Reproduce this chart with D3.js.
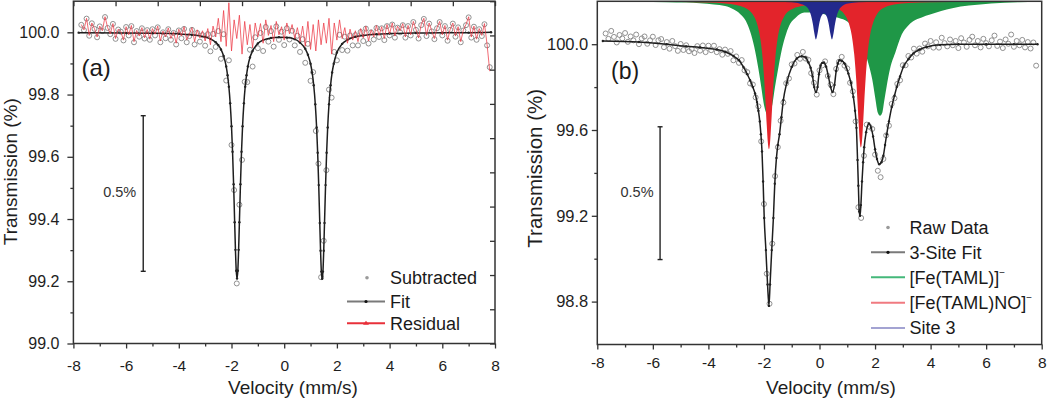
<!DOCTYPE html>
<html><head><meta charset="utf-8">
<script src="https://cdn.jsdelivr.net/npm/d3@7/dist/d3.min.js"></script>
<style>html,body{margin:0;padding:0;background:#fff;}svg{display:block;}</style>
</head><body>
<svg id="chart" width="1050" height="400"></svg>
<script>
// ---------------- data ----------------
const velocity = [
-7.7,-7.6,-7.5,-7.4,-7.3,-7.2,-7.1,-7.0,-6.9,-6.8,
-6.7,-6.6,-6.5,-6.4,-6.3,-6.2,-6.1,-6.0,-5.9,-5.8,
-5.7,-5.6,-5.5,-5.4,-5.3,-5.2,-5.1,-5.0,-4.9,-4.8,
-4.7,-4.6,-4.5,-4.4,-4.3,-4.2,-4.1,-4.0,-3.9,-3.8,
-3.7,-3.6,-3.5,-3.4,-3.3,-3.2,-3.1,-3.0,-2.9,-2.8,
-2.7,-2.6,-2.5,-2.4,-2.3,-2.2,-2.1,-2.0,-1.9,-1.8,
-1.7,-1.6,-1.5,-1.4,-1.3,-1.2,-1.1,-1.0,-0.9,-0.8,
-0.7,-0.6,-0.5,-0.4,-0.3,-0.2,-0.1,0.0,0.1,0.2,
0.3,0.4,0.5,0.6,0.7,0.8,0.9,1.0,1.1,1.2,
1.3,1.4,1.5,1.6,1.7,1.8,1.9,2.0,2.1,2.2,
2.3,2.4,2.5,2.6,2.7,2.8,2.9,3.0,3.1,3.2,
3.3,3.4,3.5,3.6,3.7,3.8,3.9,4.0,4.1,4.2,
4.3,4.4,4.5,4.6,4.7,4.8,4.9,5.0,5.1,5.2,
5.3,5.4,5.5,5.6,5.7,5.8,5.9,6.0,6.1,6.2,
6.3,6.4,6.5,6.6,6.7,6.8,6.9,7.0,7.1,7.2,
7.3,7.4,7.5,7.6,7.7,7.8];

// panel (a)
const subtracted = [
100.024,100.007,100.044,99.989,100.029,100.011,99.984,100.019,100.004,100.049,
100.014,99.994,100.027,99.979,100.009,100.002,99.974,100.017,99.990,100.020,
99.968,100.004,99.986,100.013,99.980,100.007,99.976,100.010,99.990,100.016,
99.968,100.000,99.981,100.010,99.976,99.998,99.961,100.006,99.981,100.011,
99.968,99.988,100.008,99.961,99.998,99.970,99.991,99.957,99.994,99.939,
99.995,99.953,100.004,99.915,99.994,99.845,99.910,99.638,99.493,99.193,
99.446,99.590,99.841,99.840,99.944,99.890,99.984,99.949,99.998,99.940,
100.017,99.970,100.004,99.954,100.019,99.976,100.002,99.959,100.013,99.977,
100.005,99.958,99.989,99.937,99.978,99.902,99.963,99.844,99.872,99.683,
99.578,99.213,99.330,99.557,99.816,99.790,99.937,99.910,99.992,99.943,
99.986,99.941,99.990,99.958,99.991,99.958,100.001,99.972,100.012,99.964,
100.000,99.977,100.014,99.985,100.013,99.975,100.020,99.990,100.025,99.983,
100.015,100.000,100.023,99.983,100.020,99.990,100.033,100.008,99.980,100.023,
100.043,99.988,100.028,100.003,99.978,100.013,100.033,99.990,100.020,99.973,
100.008,100.028,99.986,100.016,99.968,100.006,100.023,100.048,99.983,100.018,
99.976,100.010,99.988,100.026,99.958,99.888];

const residual = [
100.025,100.008,100.045,99.990,100.030,100.012,99.985,100.020,100.005,100.050,
100.015,99.995,100.028,99.980,100.010,100.003,99.975,100.018,99.992,100.022,
99.970,100.006,99.988,100.015,99.982,100.009,99.978,100.012,99.994,100.020,
99.972,100.004,99.985,100.014,99.980,100.002,99.965,100.010,99.988,100.018,
99.975,99.995,100.015,99.970,100.008,99.982,100.005,99.972,100.012,99.960,
100.020,99.985,100.045,99.970,100.070,99.955,100.095,99.940,100.040,99.980,
100.055,99.930,100.035,99.960,100.025,99.950,100.030,99.985,100.028,99.965,
100.040,99.990,100.022,99.970,100.035,99.992,100.018,99.975,100.030,99.995,
100.025,99.980,100.015,99.970,100.020,99.955,100.035,99.945,100.025,99.940,
100.040,99.960,100.030,99.965,100.045,99.930,100.030,99.975,100.040,99.980,
100.015,99.965,100.010,99.975,100.005,99.970,100.012,99.982,100.020,99.972,
100.008,99.985,100.022,99.990,100.018,99.980,100.025,99.995,100.030,99.988,
100.020,100.005,100.028,99.985,100.022,99.992,100.035,100.010,99.982,100.025,
100.045,99.990,100.030,100.005,99.980,100.015,100.035,99.992,100.022,99.975,
100.010,100.030,99.988,100.018,99.970,100.008,100.025,100.050,99.985,100.020,
99.978,100.012,99.990,100.028,99.960,99.875];

const fitAVel = [-7.8,-6.0,-5.0,-4.0,-3.5,-3.0,-2.8,-2.6,-2.5,-2.4,-2.3,-2.2,-2.15,-2.1,-2.05,-2.0,-1.96,-1.92,-1.88,-1.85,-1.82,-1.79,-1.76,-1.73,-1.7,-1.66,-1.62,-1.58,-1.53,-1.48,-1.43,-1.38,-1.3,-1.2,-1.0,-0.8,-0.5,-0.2,0.1,0.4,0.6,0.8,0.9,1.0,1.06,1.12,1.18,1.23,1.27,1.31,1.35,1.38,1.41,1.44,1.47,1.5,1.53,1.57,1.61,1.65,1.7,1.76,1.82,1.88,2.0,2.2,2.4,2.7,3.0,3.5,4.0,5.0,6.0,7.0,7.85];
const fitATrans = [99.999,99.998,99.997,99.995,99.992,99.985,99.979,99.968,99.959,99.945,99.924,99.89,99.862,99.825,99.772,99.698,99.616,99.512,99.39,99.301,99.234,99.209,99.234,99.301,99.39,99.512,99.616,99.698,99.772,99.825,99.862,99.89,99.919,99.94,99.964,99.975,99.982,99.984,99.983,99.978,99.967,99.947,99.928,99.899,99.871,99.83,99.769,99.694,99.613,99.509,99.387,99.298,99.231,99.208,99.231,99.298,99.387,99.509,99.613,99.694,99.769,99.83,99.871,99.899,99.935,99.963,99.976,99.986,99.99,99.994,99.996,99.998,99.999,99.999,100.0];

// panel (b)
const rawData = [
100.050,100.025,100.062,100.034,100.008,100.043,100.027,100.052,100.011,100.036,
100.018,100.045,100.000,100.027,100.036,100.002,100.018,100.035,99.996,100.018,
100.024,99.986,100.010,99.979,100.015,99.991,99.969,100.001,99.973,99.995,
99.967,99.978,99.959,99.991,99.970,99.994,99.963,99.993,99.972,99.993,
99.963,99.977,99.951,99.975,99.955,99.968,99.925,99.943,99.913,99.926,
99.878,99.870,99.817,99.812,99.752,99.710,99.547,99.255,98.930,98.790,
99.070,99.385,99.520,99.643,99.728,99.818,99.840,99.906,99.910,99.950,
99.932,99.964,99.933,99.927,99.865,99.820,99.765,99.878,99.901,99.920,
99.852,99.812,99.767,99.885,99.918,99.941,99.900,99.887,99.820,99.780,
99.640,99.240,99.190,99.480,99.625,99.615,99.605,99.485,99.410,99.380,
99.465,99.575,99.620,99.722,99.748,99.815,99.832,99.902,99.902,99.945,
99.938,99.979,99.956,99.980,99.965,100.003,99.990,100.015,99.984,100.009,
99.984,100.030,100.005,99.990,100.022,99.995,100.015,99.982,100.028,100.008,
99.988,100.020,100.035,99.995,100.015,99.985,100.025,100.005,99.990,100.018,
100.040,99.992,100.012,99.982,100.022,100.002,100.045,99.988,100.015,99.995,
100.020,99.985,100.010,99.980,100.008,99.900];

const fitBVel = [-7.8,-6.5,-5.5,-4.8,-4.3,-3.7,-3.4,-3.1,-2.9,-2.74,-2.6,-2.5,-2.4,-2.32,-2.25,-2.2,-2.15,-2.11,-2.07,-2.03,-1.99,-1.93,-1.87,-1.82,-1.78,-1.72,-1.66,-1.61,-1.55,-1.5,-1.44,-1.37,-1.3,-1.18,-1.0,-0.82,-0.64,-0.5,-0.4,-0.32,-0.25,-0.19,-0.13,-0.07,-0.02,0.04,0.1,0.16,0.24,0.32,0.4,0.47,0.54,0.6,0.66,0.72,0.8,0.9,1.04,1.13,1.22,1.28,1.33,1.37,1.4,1.43,1.46,1.49,1.53,1.57,1.61,1.68,1.78,1.86,1.93,2.0,2.07,2.15,2.23,2.3,2.36,2.42,2.5,2.6,2.7,2.78,2.9,3.02,3.2,3.38,3.6,3.86,4.34,5.0,6.0,7.0,7.85];
const fitBTrans = [100.015,100.01,100.0,99.99,99.985,99.975,99.965,99.945,99.925,99.894,99.86,99.832,99.80,99.77,99.73,99.69,99.64,99.58,99.50,99.36,99.19,99.04,98.88,98.78,98.88,99.04,99.19,99.35,99.47,99.53,99.58,99.66,99.74,99.82,99.894,99.933,99.944,99.938,99.915,99.89,99.85,99.80,99.777,99.80,99.86,99.90,99.913,99.915,99.895,99.85,99.80,99.777,99.81,99.875,99.91,99.925,99.923,99.91,99.863,99.82,99.754,99.69,99.61,99.46,99.34,99.22,99.20,99.25,99.36,99.45,99.52,99.59,99.63,99.61,99.57,99.51,99.465,99.44,99.45,99.48,99.53,99.58,99.64,99.707,99.76,99.80,99.85,99.894,99.93,99.957,99.975,99.987,99.997,100.0,100.0,100.0,100.0];

const componentTop = 100.2;
const tamlVel = [-7.8,-6.5,-5.5,-4.8,-4.3,-3.8,-3.4,-3.1,-2.85,-2.65,-2.5,-2.35,-2.2,-2.1,-2.0,-1.93,-1.85,-1.77,-1.7,-1.6,-1.5,-1.35,-1.2,-1.05,-0.85,-0.55,-0.2,0.1,0.4,0.7,1.0,1.2,1.4,1.6,1.75,1.9,2.0,2.1,2.18,2.26,2.33,2.42,2.54,2.74,2.96,3.18,3.37,3.68,3.98,4.38,4.78,5.38,6.18,7.18,7.85];
const tamlTrans = [100.198,100.197,100.196,100.194,100.191,100.185,100.178,100.163,100.14,100.108,100.06,99.988,99.885,99.803,99.718,99.683,99.668,99.683,99.718,99.803,99.877,99.979,100.049,100.096,100.125,100.148,100.148,100.142,100.133,100.122,100.106,100.082,100.045,99.975,99.915,99.835,99.755,99.68,99.666,99.68,99.735,99.805,99.885,99.965,100.045,100.085,100.107,100.125,100.138,100.155,100.168,100.18,100.19,100.196,100.197];
const tamlNOVel = [-7.8,-5.0,-4.0,-3.4,-3.0,-2.7,-2.5,-2.35,-2.22,-2.12,-2.05,-1.99,-1.94,-1.9,-1.86,-1.82,-1.78,-1.74,-1.7,-1.65,-1.59,-1.52,-1.42,-1.29,-1.14,-0.94,-0.64,-0.3,0.0,0.3,0.6,0.9,1.05,1.16,1.25,1.32,1.37,1.41,1.45,1.49,1.53,1.57,1.61,1.66,1.73,1.82,1.93,2.08,2.38,2.69,3.2,4.0,5.5,7.85];
const tamlNOTrans = [100.199,100.197,100.194,100.19,100.183,100.171,100.154,100.128,100.083,100.016,99.937,99.834,99.72,99.624,99.542,99.51,99.542,99.624,99.72,99.834,99.937,100.016,100.083,100.125,100.151,100.167,100.178,100.184,100.184,100.18,100.169,100.139,100.1,100.042,99.953,99.838,99.727,99.63,99.55,99.518,99.55,99.63,99.727,99.838,99.953,100.042,100.1,100.142,100.173,100.185,100.192,100.196,100.198,100.199];
const site3Vel = [-7.8,-3.0,-2.0,-1.5,-1.0,-0.7,-0.5,-0.38,-0.3,-0.24,-0.19,-0.13,-0.07,-0.01,0.06,0.16,0.26,0.33,0.39,0.45,0.51,0.56,0.62,0.7,0.82,1.03,1.4,2.0,3.0,7.85];
const site3Trans = [100.2,100.2,100.199,100.198,100.195,100.189,100.178,100.16,100.132,100.095,100.054,100.022,100.05,100.095,100.129,100.143,100.129,100.095,100.05,100.022,100.054,100.095,100.132,100.16,100.178,100.19,100.196,100.198,100.199,100.2];

// axes / labels
const xTicks = [-8,-6,-4,-2,0,2,4,6,8];
const xMinorTicks = [-7,-5,-3,-1,1,3,5,7];
const yTicksA = [99.0,99.2,99.4,99.6,99.8,100.0];
const yMinorA = [99.1,99.3,99.5,99.7,99.9];
const yTicksB = [98.8,99.2,99.6,100.0];
const yMinorB = [99.0,99.4,99.8];
const secondaryTicks = [0,1,2,3,4,5,6,7,8,9,10];
const scaleBarA = [99.732, 99.232];
const scaleBarB = [99.615, 98.996];
const legendA = ["Subtracted","Fit","Residual"];
const legendB = ["Raw Data","3-Site Fit","[Fe(TAML)]","[Fe(TAML)NO]","Site 3"];

// ---------------- drawing ----------------
const FONT = '"Liberation Sans", Arial, Helvetica, sans-serif';
const svg = d3.select("#chart");
const pairs = (a,b) => a.slice(0, Math.min(a.length,b.length)).map((v,i)=>[v,b[i]]);

function makePanel(id, x0, x1, y0, y1, yDom){
  const x = d3.scaleLinear().domain([-8,8]).range([x0,x1]);
  const y = d3.scaleLinear().domain(yDom).range([y1,y0]);
  svg.append("clipPath").attr("id",id).append("rect")
    .attr("x",x0).attr("y",y0).attr("width",x1-x0).attr("height",y1-y0);
  const g = svg.append("g");
  const plot = g.append("g").attr("clip-path",`url(#${id})`);
  return {x,y,g,plot,x0,x1,y0,y1};
}
function styleAxis(sel, fs){
  sel.select(".domain").remove();
  sel.selectAll(".tick line").attr("stroke","#333").attr("stroke-width",1.3);
  sel.selectAll(".tick text").attr("font-family",FONT).attr("font-size",fs).attr("fill","#1e1e1e");
}
function drawAxes(P, o){
  const {g,x,y,x0,x1,y0,y1} = P;
  styleAxis(g.append("g").attr("transform",`translate(0,${y1})`)
    .call(d3.axisBottom(x).tickValues(xTicks).tickFormat(d=>String(d)).tickSize(5).tickPadding(o.xPad)), 15.5);
  styleAxis(g.append("g").attr("transform",`translate(0,${y1})`)
    .call(d3.axisBottom(x).tickValues(xMinorTicks).tickFormat("").tickSize(3)), 15.5);
  styleAxis(g.append("g").attr("transform",`translate(${x0},0)`)
    .call(d3.axisLeft(y).tickValues(o.yTicks).tickFormat(d3.format(".1f")).tickSize(o.ySize).tickPadding(o.yPad)), o.yfs);
  styleAxis(g.append("g").attr("transform",`translate(${x0},0)`)
    .call(d3.axisLeft(y).tickValues(o.yMinor).tickFormat("").tickSize(3)), 15);
  if (o.secondary){
    const sx = d3.scaleLinear().domain([0,10]).range([x0,x1]);
    const sy = d3.scaleLinear().domain([0,10]).range([y1,y0]);
    styleAxis(g.append("g").attr("transform",`translate(0,${y0})`)
      .call(d3.axisTop(sx).tickValues(secondaryTicks).tickFormat("").tickSize(-5)), 12);
    styleAxis(g.append("g").attr("transform",`translate(${x1},0)`)
      .call(d3.axisRight(sy).tickValues(secondaryTicks).tickFormat("").tickSize(-5)), 12);
  }
  g.append("rect").attr("x",x0).attr("y",y0).attr("width",x1-x0).attr("height",y1-y0)
    .attr("fill","none").attr("stroke","#333").attr("stroke-width",1.5);
  g.append("text").attr("x",o.xTitleX).attr("y",393.5).attr("text-anchor","middle")
    .attr("font-family",FONT).attr("font-size",19).attr("fill","#1e1e1e").text("Velocity (mm/s)");
  g.append("text").attr("transform",`translate(${o.yTitleX},${o.yTitleY}) rotate(-90)`).attr("text-anchor","middle")
    .attr("font-family",FONT).attr("font-size",o.yTitleFs).attr("fill","#1e1e1e").text("Transmission (%)");
}
function scaleBar(P, vel, vals, labelDx){
  const cx = P.x(vel), ya = P.y(vals[0]), yb = P.y(vals[1]);
  const g = P.g.append("g").attr("stroke","#222").attr("stroke-width",1.4);
  g.append("line").attr("x1",cx).attr("x2",cx).attr("y1",ya).attr("y2",yb);
  g.append("line").attr("x1",cx-2.5).attr("x2",cx+2.5).attr("y1",ya).attr("y2",ya);
  g.append("line").attr("x1",cx-2.5).attr("x2",cx+2.5).attr("y1",yb).attr("y2",yb);
  P.g.append("text").attr("x",cx+labelDx).attr("y",(ya+yb)/2+3.5).attr("text-anchor","middle")
    .attr("font-family",FONT).attr("font-size",14.5).attr("fill","#333").text("0.5%");
}
function legendText(g, x, y, label, sup){
  const t = g.append("text").attr("x",x).attr("y",y+6.3).attr("font-family",FONT).attr("font-size",18).attr("fill","#1a1a1a").text(label);
  if (sup) t.append("tspan").attr("dy",-8).attr("font-size",10).text("\u2212");
}

// ---- panel (a)
const A = makePanel("clipA", 73.4, 495, 1.2, 343.5, [99.0, 100.1]);
const lineA = d3.line().x(d=>A.x(d[0])).y(d=>A.y(d[1]));
A.plot.append("g").selectAll("circle").data(pairs(velocity, subtracted)).join("circle")
  .attr("cx",d=>A.x(d[0])).attr("cy",d=>A.y(d[1])).attr("r",2.5)
  .attr("fill","none").attr("stroke","#858585").attr("stroke-width",0.9);
const fitA = pairs(fitAVel, fitATrans);
A.plot.append("path").datum(fitA).attr("d",lineA.curve(d3.curveMonotoneX))
  .attr("fill","none").attr("stroke","#1e1e1e").attr("stroke-width",1.5);
A.plot.append("g").selectAll("circle").data(fitA).join("circle")
  .attr("cx",d=>A.x(d[0])).attr("cy",d=>A.y(d[1])).attr("r",1.2).attr("fill","#222");
A.plot.append("path").datum(pairs(velocity, residual))
  .attr("d",d3.line().x(d=>A.x(d[0])).y(d=>A.y(d[1])))
  .attr("fill","none").attr("stroke","#ec3a46").attr("stroke-width",1).attr("stroke-opacity",0.75);
drawAxes(A, {xPad:11, yTicks:yTicksA, yMinor:yMinorA, ySize:6, yPad:8, yfs:16, secondary:true,
  xTitleX:293, yTitleX:17, yTitleY:171.7, yTitleFs:19});
A.g.append("text").attr("x",81.5).attr("y",76).attr("font-family",FONT).attr("font-size",24).attr("fill","#1a1a1a").text("(a)");
scaleBar(A, -5.35, scaleBarA, -23.5);
{
  const lg = A.g.append("g"), lx1 = 347, lx2 = 385, tx = 390, rows = [277.7, 301.5, 323.3];
  lg.append("circle").attr("cx",367).attr("cy",rows[0]).attr("r",1.8).attr("fill","#9a9a9a");
  lg.append("line").attr("x1",lx1).attr("x2",lx2).attr("y1",rows[1]).attr("y2",rows[1]).attr("stroke","#7a7a7a").attr("stroke-width",2);
  lg.append("circle").attr("cx",366).attr("cy",rows[1]).attr("r",1.6).attr("fill","#111");
  lg.append("line").attr("x1",lx1).attr("x2",lx2).attr("y1",rows[2]).attr("y2",rows[2]).attr("stroke","#e8303a").attr("stroke-width",2);
  lg.append("path").attr("d",`M363,${rows[2]+1.5}L366,${rows[2]-2.5}L369,${rows[2]+1.5}Z`).attr("fill","#e8303a");
  legendA.forEach((s,i)=>legendText(lg, tx, rows[i], s, false));
}

// ---- panel (b)
const B = makePanel("clipB", 597.3, 1041.7, 1.3, 344.5, [98.6, 100.2]);
const areaB = d3.area().x(d=>B.x(d[0])).y0(B.y(componentTop)).y1(d=>B.y(d[1])).curve(d3.curveMonotoneX);
const compColors = ["#1f9747","#e3242b","#23298c"];
[[tamlVel,tamlTrans],[tamlNOVel,tamlNOTrans],[site3Vel,site3Trans]].forEach((c,i)=>{
  B.plot.append("path").datum(pairs(c[0],c[1])).attr("d",areaB).attr("fill",compColors[i]).attr("stroke","none");
});
B.plot.append("g").selectAll("circle").data(pairs(velocity, rawData)).join("circle")
  .attr("cx",d=>B.x(d[0])).attr("cy",d=>B.y(d[1])).attr("r",2.5)
  .attr("fill","none").attr("stroke","#858585").attr("stroke-width",0.9);
const fitB = pairs(fitBVel, fitBTrans);
B.plot.append("path").datum(fitB).attr("d",d3.line().x(d=>B.x(d[0])).y(d=>B.y(d[1])).curve(d3.curveMonotoneX))
  .attr("fill","none").attr("stroke","#1e1e1e").attr("stroke-width",1.5);
B.plot.append("g").selectAll("circle").data(fitB).join("circle")
  .attr("cx",d=>B.x(d[0])).attr("cy",d=>B.y(d[1])).attr("r",1.2).attr("fill","#222");
drawAxes(B, {xPad:7, yTicks:yTicksB, yMinor:yMinorB, ySize:5.5, yPad:3.5, yfs:16.5, secondary:false,
  xTitleX:831, yTitleX:542, yTitleY:168.3, yTitleFs:20.5});
B.g.append("text").attr("x",611).attr("y",78.5).attr("font-family",FONT).attr("font-size",23).attr("fill","#1a1a1a").text("(b)");
scaleBar(B, -5.74, scaleBarB, -23);
{
  const lg = B.g.append("g"), lx1 = 871, lx2 = 905, tx = 909.5, rows = [227.5, 252.3, 277.3, 302.8, 328];
  lg.append("circle").attr("cx",888).attr("cy",rows[0]).attr("r",1.8).attr("fill","#9a9a9a");
  lg.append("line").attr("x1",lx1).attr("x2",lx2).attr("y1",rows[1]).attr("y2",rows[1]).attr("stroke","#7a7a7a").attr("stroke-width",2);
  lg.append("circle").attr("cx",888).attr("cy",rows[1]).attr("r",1.6).attr("fill","#111");
  const lc = ["#44b87a","#f07a80","#a3a3d2"];
  [2,3,4].forEach((r,k)=>lg.append("line").attr("x1",lx1).attr("x2",lx2).attr("y1",rows[r]).attr("y2",rows[r]).attr("stroke",lc[k]).attr("stroke-width",2));
  legendB.forEach((s,i)=>legendText(lg, tx, rows[i], s, i===2||i===3));
}
</script>
</body></html>
